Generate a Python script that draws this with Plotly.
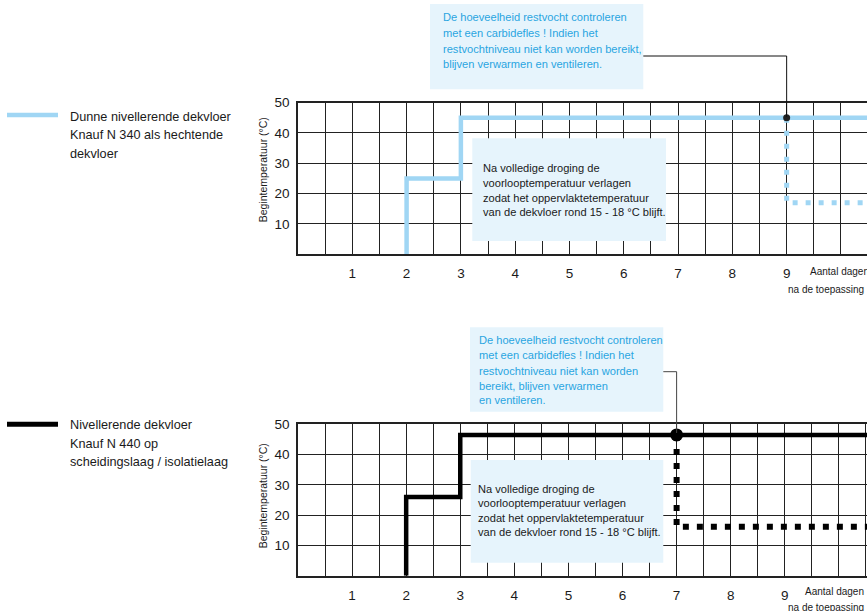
import plotly.graph_objects as go

W, H = 867, 611

# ---------------- data ----------------
day_ticks = [1, 2, 3, 4, 5, 6, 7, 8, 9]
temp_ticks = [10, 20, 30, 40, 50]

# Chart 1: Knauf N 340 (thin levelling screed)
n340_day = [2, 2, 3, 10.6]
n340_temp = [0, 25, 45, 45]
n340_cool_day = [9, 9, 10.6]
n340_cool_temp = [45, 17, 17]
n340_check_day = [9]
n340_check_temp = [45]

# Chart 2: Knauf N 440 (levelling screed on separation / insulation layer)
n440_day = [2, 2, 3, 10.6]
n440_temp = [0, 26, 46.5, 46.5]
n440_cool_day = [7, 7, 10.6]
n440_cool_temp = [46.5, 16.2, 16.2]
n440_check_day = [7]
n440_check_temp = [46.5]

legend1 = ["Dunne nivellerende dekvloer", "Knauf N 340 als hechtende", "dekvloer"]
legend2 = ["Nivellerende dekvloer", "Knauf N 440 op", "scheidingslaag / isolatielaag"]
note1 = ["De hoeveelheid restvocht controleren", "met een carbidefles ! Indien het",
         "restvochtniveau niet kan worden bereikt,", "blijven verwarmen en ventileren."]
note2 = ["De hoeveelheid restvocht controleren", "met een carbidefles ! Indien het",
         "restvochtniveau niet kan worden", "bereikt, blijven verwarmen", "en ventileren."]
note_dry = ["Na volledige droging de", "voorlooptemperatuur verlagen",
            "zodat het oppervlaktetemperatuur", "van de dekvloer rond 15 - 18 °C blijft."]
ytitle = "Begintemperatuur (°C)"
xtitle1 = "Aantal dagen"
xtitle2 = "na de toepassing"

# ---------------- style ----------------
FONT = "Liberation Sans, Arial, sans-serif"
BLUE = "#a0d6f4"
TXTBLUE = "#29a5e1"
BOXFILL = "#e6f4fc"
GRID = "#222222"
TXT = "#1a1a1a"
NOTE_SIZE = 11.1

X0 = 298.0
XR1 = 10.48
XR2 = 10.52


def px(x):
    return x / W


def py(y):
    return 1 - y / H


def dpx(day, xr):
    return X0 + day * (W - X0) / xr


fig = go.Figure()

# chart 1 traces
fig.add_trace(go.Scatter(x=n340_day, y=n340_temp, mode="lines", line_shape="hv",
                         line=dict(color=BLUE, width=4.5), xaxis="x", yaxis="y", showlegend=False))
fig.add_trace(go.Scatter(x=n340_cool_day, y=n340_cool_temp, mode="lines",
                         line=dict(color=BLUE, width=5, dash="5px,8px"), xaxis="x", yaxis="y", showlegend=False))
fig.add_trace(go.Scatter(x=n340_check_day, y=n340_check_temp, mode="markers",
                         marker=dict(color="#222", size=7), xaxis="x", yaxis="y", showlegend=False))

# chart 2 traces
fig.add_trace(go.Scatter(x=n440_day, y=n440_temp, mode="lines", line_shape="hv",
                         line=dict(color="#000", width=4.5), xaxis="x2", yaxis="y2", showlegend=False))
fig.add_trace(go.Scatter(x=n440_cool_day, y=n440_cool_temp, mode="lines",
                         line=dict(color="#000", width=6, dash="6px,8px"), xaxis="x2", yaxis="y2", showlegend=False))
fig.add_trace(go.Scatter(x=n440_check_day, y=n440_check_temp, mode="markers",
                         marker=dict(color="#000", size=13), xaxis="x2", yaxis="y2", showlegend=False))


def xaxis_cfg(xr, anchor):
    return dict(domain=[px(X0), 1], range=[0, xr], anchor=anchor,
                tickvals=day_ticks, ticktext=[str(d) for d in day_ticks],
                showgrid=True, gridcolor=GRID, gridwidth=1.2,
                minor=dict(dtick=0.5, tick0=0, showgrid=True, gridcolor=GRID, gridwidth=1.2),
                showline=True, linecolor=GRID, linewidth=1.5, mirror=True,
                zeroline=False, ticks="", ticklabelstandoff=6, automargin=False,
                tickfont=dict(family=FONT, size=13.5, color=TXT), fixedrange=True)


def yaxis_cfg(top, bottom, anchor):
    return dict(domain=[py(bottom), py(top)], range=[0, 50], anchor=anchor,
                tickvals=temp_ticks, ticktext=[str(t) for t in temp_ticks],
                showgrid=True, gridcolor=GRID, gridwidth=1.2,
                showline=True, linecolor=GRID, linewidth=1.5,
                zeroline=False, ticks="", ticklabelstandoff=4, automargin=False,
                tickfont=dict(family=FONT, size=13.5, color=TXT), fixedrange=True)


shapes = []
annotations = []


def box(x0, y0, x1, y1):
    shapes.append(dict(type="rect", xref="paper", yref="paper", x0=px(x0), x1=px(x1),
                       y0=py(y1), y1=py(y0), fillcolor=BOXFILL, line=dict(width=0), layer="above"))


def lines_text(lines, x, ys, color, size):
    for t, y in zip(lines, ys):
        annotations.append(dict(text=t, x=px(x), y=py(y), xref="paper", yref="paper",
                                xanchor="left", yanchor="middle", showarrow=False,
                                font=dict(family=FONT, size=size, color=color)))


# legend samples
shapes.append(dict(type="line", xref="paper", yref="paper", x0=px(7), x1=px(58), y0=py(115), y1=py(115),
                   line=dict(color=BLUE, width=4.5)))
shapes.append(dict(type="line", xref="paper", yref="paper", x0=px(7), x1=px(58), y0=py(424.3), y1=py(424.3),
                   line=dict(color="#000", width=5)))
lines_text(legend1, 68, [116.7, 135.3, 154], TXT, 12.7)
lines_text(legend2, 68, [425, 443.7, 462.3], TXT, 12.7)

# callout boxes
box(430, 4, 643.3, 89.3)
lines_text(note1, 440.5, [17.3, 33, 48.7, 64.3], TXTBLUE, NOTE_SIZE)
box(472.3, 138.3, 666, 241)
lines_text(note_dry, 480.5, [167.7, 182.7, 197.7, 211.7], TXT, NOTE_SIZE)
box(470, 327.3, 663.3, 411.7)
lines_text(note2, 477, [340, 355, 370.7, 385.7, 400], TXTBLUE, NOTE_SIZE)
box(470.7, 460, 663.3, 562.7)
lines_text(note_dry, 476, [489.3, 503.3, 518.3, 531.7], TXT, NOTE_SIZE)

# connectors
x9 = dpx(n340_check_day[0], XR1)
shapes.append(dict(type="path", xref="paper", yref="paper",
                   path=f"M {px(643.3)},{py(56)} L {px(x9)},{py(56)} L {px(x9)},{py(117)}",
                   line=dict(color="#111", width=1)))
x7 = dpx(n440_check_day[0], XR2)
shapes.append(dict(type="path", xref="paper", yref="paper",
                   path=f"M {px(663.3)},{py(371.7)} L {px(x7)},{py(371.7)} L {px(x7)},{py(433)}",
                   line=dict(color="#444", width=1)))

# axis titles
for yc in (170, 496):
    annotations.append(dict(text=ytitle, x=px(263.3), y=py(yc), xref="paper", yref="paper",
                            textangle=-90, showarrow=False, xanchor="center", yanchor="middle",
                            font=dict(family=FONT, size=10.5, color=TXT)))
for (xa, ya, yb) in ((808.3, 271.7, 289), (802.7, 591.7, 607.5)):
    annotations.append(dict(text=xtitle1, x=px(xa), y=py(ya), xref="paper", yref="paper",
                            xanchor="left", yanchor="middle", showarrow=False,
                            font=dict(family=FONT, size=10, color=TXT)))
    annotations.append(dict(text=xtitle2, x=px(866), y=py(yb), xref="paper", yref="paper",
                            xanchor="right", yanchor="middle", showarrow=False,
                            font=dict(family=FONT, size=10, color=TXT)))

fig.update_layout(
    width=W, height=H, margin=dict(l=0, r=0, t=0, b=0, pad=0, autoexpand=False),
    paper_bgcolor="white", plot_bgcolor="white",
    xaxis=xaxis_cfg(XR1, "y"),
    yaxis=yaxis_cfg(102.5, 254.3, "x"),
    xaxis2=xaxis_cfg(XR2, "y2"),
    yaxis2=yaxis_cfg(424.3, 575.7, "x2"),
    shapes=shapes, annotations=annotations,
    font=dict(family=FONT, color=TXT),
)

fig.write_html("out.html", config={"displayModeBar": False},
               post_script="document.body.style.margin='0';document.body.style.overflow='hidden';")
